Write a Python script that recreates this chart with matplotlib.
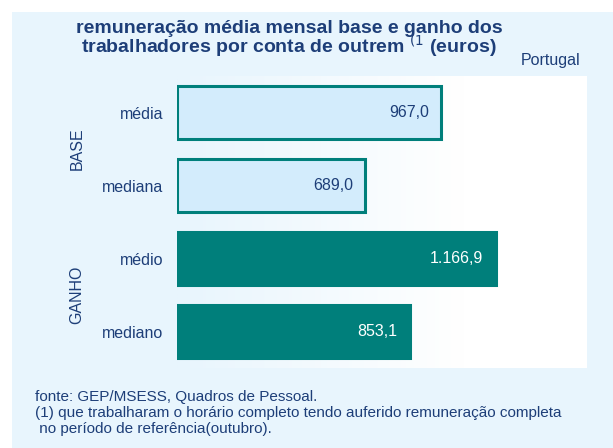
import matplotlib
matplotlib.use("Agg")
import matplotlib.pyplot as plt
import numpy as np
from matplotlib.patches import Rectangle
from matplotlib.colors import LinearSegmentedColormap

plt.rcParams['font.family'] = ['Liberation Sans', 'DejaVu Sans']

categories = ["média", "mediana", "médio", "mediano"]
values = [967.0, 689.0, 1166.9, 853.1]
value_labels = ["967,0", "689,0", "1.166,9", "853,1"]
groups = ["BASE", "GANHO"]
group_members = [[0, 1], [2, 3]]

W, H = 613, 448
fig = plt.figure(figsize=(W / 100, H / 100), dpi=100)
fig.patch.set_facecolor("white")

bg = "#e8f5fd"
navy = "#1d3e78"
teal = "#007f7b"
light = "#d3ecfc"

# background panel
fig.patches.append(Rectangle((12 / W, 0), 1 - 12 / W, 1 - 12 / H,
                             transform=fig.transFigure, facecolor=bg,
                             edgecolor="none", zorder=-10))

x0, x1, y0, y1 = 177, 587, 76, 368
ax = fig.add_axes([x0 / W, 1 - y1 / H, (x1 - x0) / W, (y1 - y0) / H])
ax.set_facecolor("none")
for s in ax.spines.values():
    s.set_visible(False)

# gradient background in plot area
grad = np.linspace(0, 1, 256).reshape(1, -1)
cmap = LinearSegmentedColormap.from_list(
    "g", [(0, bg), (0.7, "#ffffff"), (1, "#ffffff")])
ax.imshow(grad, extent=[0, 1, 0, 1], transform=ax.transAxes, aspect="auto",
          cmap=cmap, zorder=0)

ax.set_xlim(0, 1500)
ax.set_ylim(3.5, -0.5)
ypos = np.arange(len(categories))
fills = [light, light, teal, teal]
for i, (v, lab) in enumerate(zip(values, value_labels)):
    ax.barh(ypos[i], v, height=0.72, color=fills[i], edgecolor=teal,
            linewidth=2.2, zorder=2)
    ax.annotate(lab, xy=(v, ypos[i]), xytext=(-9, 0), textcoords="offset points",
                ha="right", va="center", fontsize=11.5,
                color=navy if i < 2 else "white", zorder=3)

ax.set_xticks([])
ax.set_yticks(ypos)
ax.set_yticklabels(categories, fontsize=11.5, color=navy)
ax.tick_params(axis="y", length=0, pad=10)

for g, mem in zip(groups, group_members):
    yc = np.mean([ypos[m] for m in mem])
    ax.text(-0.244, yc, g, transform=ax.get_yaxis_transform(), rotation=90,
            ha="center", va="center", fontsize=11.5, color=navy)

fig.text(289 / W, 1 - 40 / H,
         "remuneração média mensal base e ganho dos\n"
         "trabalhadores por conta de outrem $^{(1}$ (euros)",
         ha="center", va="center", multialignment="center", linespacing=0.82,
         fontsize=14, fontweight="bold", color=navy)
fig.text(580 / W, 1 - 61 / H, "Portugal", ha="right", va="center",
         fontsize=11.5, color=navy)

fig.text(35 / W, 1 - 413 / H,
         "fonte: GEP/MSESS, Quadros de Pessoal.\n"
         "(1) que trabalharam o horário completo tendo auferido remuneração completa\n"
         " no período de referência(outubro).",
         ha="left", va="center", linespacing=1.15, fontsize=11, color=navy)

fig.savefig("out.png", dpi=100)
